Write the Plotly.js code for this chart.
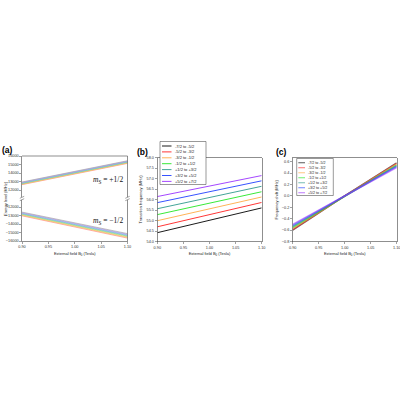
<!DOCTYPE html>
<html>
<head>
<meta charset="utf-8">
<script src="https://cdn.plot.ly/plotly-3.0.1.min.js"></script>
<style>
  html, body { margin: 0; padding: 0; background: #fff; }
  #chart { width: 400px; height: 400px; }
</style>
</head>
<body>
<div id="chart"></div>
<script>
// External field values (Tesla) shared by all three panels
const fieldB = [0.90, 1.00, 1.10];
const fieldTicks = [0.90, 0.95, 1.00, 1.05, 1.10];

// (a) Energy levels (MHz) for the eight nuclear sublevels, per electron spin state
const levelColors = ["#ff8a8a", "#ffb466", "#dcd25a", "#8fd68f", "#5ec4c4", "#84a8ee", "#b292ee", "#a8a8a8"];
const levelsUp = [
  [12630, 13880, 15130],
  [12672, 13923, 15173],
  [12716, 13967, 15218],
  [12762, 14012, 15262],
  [12806, 14057, 15306],
  [12852, 14102, 15351],
  [12898, 14147, 15396],
  [12940, 14190, 15440]
];
const levelsDown = [
  [-13040, -14350, -15660],
  [-12977, -14281, -15584],
  [-12914, -14212, -15508],
  [-12851, -14143, -15432],
  [-12788, -14074, -15356],
  [-12726, -14005, -15282],
  [-12663, -13937, -15206],
  [-12600, -13870, -15130]
];
const upTicks = [12000, 13000, 14000, 15000, 16000];
const downTicks = [-16000, -15000, -14000, -13000, -12000];

// (b) transition frequencies (MHz) and (c) their shift from the 1.00 T value
const transitions = ["-7/2 to -5/2", "-5/2 to -3/2", "-3/2 to -1/2", "-1/2 to +1/2",
                     "+1/2 to +3/2", "+3/2 to +5/2", "+5/2 to +7/2"];
const transColors = ["#000000", "#ff2020", "#ffaa44", "#22e622", "#2f9a8c", "#2040ff", "#9a32ff"];
const freq = [
  [54.42, 55.02, 55.60],
  [54.70, 55.29, 55.86],
  [54.99, 55.56, 56.12],
  [55.28, 55.83, 56.37],
  [55.56, 56.10, 56.63],
  [55.85, 56.37, 56.89],
  [56.14, 56.64, 57.14]
];
const shift = [
  [-0.600, 0, 0.580],
  [-0.590, 0, 0.570],
  [-0.570, 0, 0.555],
  [-0.555, 0, 0.540],
  [-0.540, 0, 0.530],
  [-0.520, 0, 0.515],
  [-0.500, 0, 0.500]
];

// pixel -> paper helpers (page is 400 x 400 with zero margins)
const S = 400;
const px = v => v / S;
const py = v => 1 - v / S;

const FONT = "Arial, 'Liberation Sans', sans-serif";
const tickFont = { family: FONT, size: 3.8, color: "#333" };
const titleFont = { family: FONT, size: 4, color: "#222" };

function rgba(hex, a) {
  const n = parseInt(hex.slice(1), 16);
  return `rgba(${(n >> 16) & 255},${(n >> 8) & 255},${n & 255},${a})`;
}

const traces = [];
levelsUp.forEach((vals, i) => traces.push({
  x: fieldB, y: vals, xaxis: "x", yaxis: "y2", mode: "lines",
  line: { color: levelColors[i], width: 0.7 }, showlegend: false, hoverinfo: "skip"
}));
levelsDown.forEach((vals, i) => traces.push({
  x: fieldB, y: vals, xaxis: "x", yaxis: "y", mode: "lines",
  line: { color: levelColors[i], width: 0.7 }, showlegend: false, hoverinfo: "skip"
}));
freq.forEach((vals, i) => traces.push({
  x: fieldB, y: vals, xaxis: "x2", yaxis: "y3", mode: "lines",
  line: { color: transColors[i], width: 0.9 }, showlegend: false, hoverinfo: "skip"
}));
shift.forEach((vals, i) => traces.push({
  x: fieldB, y: vals, xaxis: "x3", yaxis: "y4", mode: "lines",
  line: { color: rgba(transColors[i], 0.55), width: 1.6 }, showlegend: false, hoverinfo: "skip"
}));

const axisBase = {
  showline: true, linecolor: "#444", linewidth: 0.6,
  ticks: "outside", ticklen: 2, tickwidth: 0.5, tickcolor: "#444",
  tickfont: tickFont, showgrid: false, zeroline: false, fixedrange: true,
  exponentformat: "none", ticklabeloverflow: "allow", automargin: false
};
const xTitle = { text: "External field B<sub>0</sub> (Tesla)", font: titleFont, standoff: 3 };
const xBase = Object.assign({}, axisBase, {
  range: [0.9, 1.1], tickvals: fieldTicks, tickformat: ".2f", title: xTitle
});

const layout = {
  width: 400, height: 400,
  margin: { l: 0, r: 0, t: 0, b: 0 },
  paper_bgcolor: "#fff", plot_bgcolor: "#fff",
  showlegend: false,
  xaxis: Object.assign({}, xBase, { domain: [px(22), px(127.5)], anchor: "y", mirror: false }),
  yaxis: Object.assign({}, axisBase, {
    domain: [py(241), py(198.5)], anchor: "x", range: [-16000, -11000],
    tickvals: downTicks, tickformat: "d", mirror: true
  }),
  yaxis2: Object.assign({}, axisBase, {
    domain: [py(198.5), py(156)], anchor: "x", range: [11000, 16000],
    tickvals: upTicks, tickformat: "d", mirror: true
  }),
  xaxis2: Object.assign({}, xBase, { domain: [px(157.3), px(261.7)], anchor: "y3", mirror: true }),
  yaxis3: Object.assign({}, axisBase, {
    domain: [py(241.5), py(157.5)], anchor: "x2", range: [54, 58], dtick: 0.5,
    tickformat: ".1f", mirror: true,
    title: { text: "Transition frequency (MHz)", font: titleFont, standoff: 3 }
  }),
  xaxis3: Object.assign({}, xBase, { domain: [px(292.7), px(396.7)], anchor: "y4", mirror: true }),
  yaxis4: Object.assign({}, axisBase, {
    domain: [py(241.5), py(158)], anchor: "x3", range: [-0.8, 0.665], dtick: 0.2,
    tickformat: ".1f", mirror: true,
    title: { text: "Frequency shift (MHz)", font: titleFont, standoff: 3 }
  }),
  shapes: [],
  annotations: []
};

// top border of panel (a)
layout.shapes.push({
  type: "line", xref: "paper", yref: "paper",
  x0: px(22), x1: px(127.5), y0: py(156), y1: py(156),
  line: { color: "#444", width: 0.6 }
});

// axis-break marks on both sides of panel (a)
[22, 127.5].forEach(cx => {
  const cy = 198.5;
  layout.shapes.push({
    type: "rect", xref: "paper", yref: "paper",
    x0: px(cx - 2.2), x1: px(cx + 2.2), y0: py(cy + 1.4), y1: py(cy - 1.4),
    fillcolor: "#fff", line: { width: 0 }
  });
  [-1.2, 1.2].forEach(d => layout.shapes.push({
    type: "line", xref: "paper", yref: "paper",
    x0: px(cx - 2.2), x1: px(cx + 2.2), y0: py(cy + d + 1), y1: py(cy + d - 1),
    line: { color: "#444", width: 0.5 }
  }));
});

// panel (a) shared y title
layout.annotations.push({
  xref: "paper", yref: "paper", x: px(5.5), y: py(198.5), text: "Energy level (MHz)",
  textangle: -90, showarrow: false, font: titleFont, xanchor: "center", yanchor: "middle"
});

// spin-state labels in panel (a)
const spinLabels = [
  { text: "<i>m</i><sub>S</sub> = +1/2", x: 108, y: 179.5 },
  { text: "<i>m</i><sub>S</sub> = \u22121/2", x: 108, y: 220.5 }
];
spinLabels.forEach(s => layout.annotations.push({
  xref: "paper", yref: "paper", x: px(s.x), y: py(s.y), text: s.text, showarrow: false,
  font: { family: "Liberation Serif, serif", size: 7.5, color: "#111" },
  xanchor: "center", yanchor: "middle"
}));

// panel letters
[["(a)", 7, 149.5], ["(b)", 142.5, 152], ["(c)", 281, 152]].forEach(([t, x, y]) =>
  layout.annotations.push({
    xref: "paper", yref: "paper", x: px(x), y: py(y), text: "<b>" + t + "</b>",
    showarrow: false, font: { family: FONT, size: 8.5, color: "#000" },
    xanchor: "center", yanchor: "middle"
  })
);

// boxed key listing the transitions
function addKey(box, firstY, step, lineX0, lineX1, textX, colorFn, lineW, fontSize) {
  layout.shapes.push({
    type: "rect", xref: "paper", yref: "paper",
    x0: px(box[0]), x1: px(box[2]), y0: py(box[3]), y1: py(box[1]),
    fillcolor: "#fff", line: { color: "#333", width: 0.5 }
  });
  transitions.forEach((label, i) => {
    const yy = firstY + i * step;
    layout.shapes.push({
      type: "line", xref: "paper", yref: "paper",
      x0: px(lineX0), x1: px(lineX1), y0: py(yy), y1: py(yy),
      line: { color: colorFn(i), width: lineW }
    });
    layout.annotations.push({
      xref: "paper", yref: "paper", x: px(textX), y: py(yy), text: label,
      showarrow: false, xanchor: "left", yanchor: "middle",
      font: { family: FONT, size: fontSize, color: "#222" }
    });
  });
}
addKey([160, 141.5, 206, 184.5], 146, 5.9, 162, 171.5, 172.5, i => transColors[i], 0.9, 4);
addKey([296.7, 158.5, 333.3, 195.5], 162.7, 5, 298.3, 305, 305.8, i => rgba(transColors[i], 0.55), 1.2, 3.6);

Plotly.newPlot("chart", traces, layout, { staticPlot: true, displayModeBar: false });
</script>
</body>
</html>
